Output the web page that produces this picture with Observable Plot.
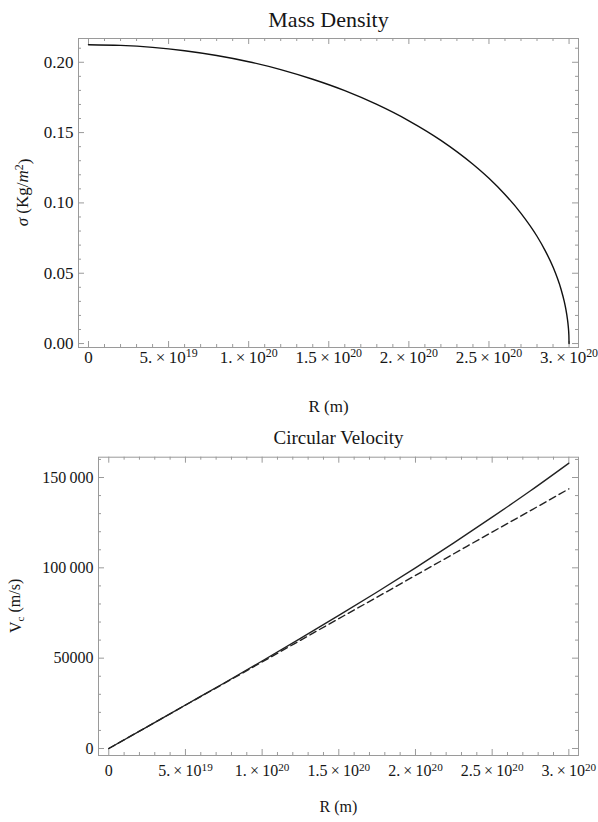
<!DOCTYPE html>
<html><head><meta charset="utf-8">
<script src="https://cdn.jsdelivr.net/npm/d3@7"></script>
<script src="https://cdn.jsdelivr.net/npm/@observablehq/plot@0.6"></script>
<style>
html,body{margin:0;padding:0;background:#fff}
svg{display:block}
svg text{font-family:'Liberation Serif','DejaVu Serif','Times New Roman',serif !important}
</style>
</head><body><div id="c"></div>
<script>
// ---- data ----
const densityTitle = "Mass Density";
const velocityTitle = "Circular Velocity";
// radius in units of 1e19 m, surface density in kg/m^2
const densityR = [0,2,4,6,8,10,12,14,16,18,20,22,24,25,26,27,28,28.5,29,29.5,29.7,29.8,29.9,29.95,29.99,30];
const densitySigma = [0.2125,0.2120,0.2106,0.2082,0.2048,0.2004,0.1948,0.1879,0.1798,0.1700,0.1584,0.1445,0.1275,0.1175,0.1060,0.0926,0.0763,0.0663,0.0544,0.0386,0.0300,0.0245,0.0173,0.0123,0.0055,0];
// radius in units of 1e20 m, velocities in m/s
const velocityR = [0,0.25,0.5,0.75,1,1.25,1.5,1.75,2,2.25,2.5,2.75,3];
const velocitySolid = [0,12010,24070,36120,48430,60930,73680,86620,100020,113800,128040,142660,157930];
const velocityDashed = [0,12000,24000,35900,47900,59900,71900,83800,95800,107800,119800,131700,143700];
// ticks
const xMajor = [0,5e19,1e20,1.5e20,2e20,2.5e20,3e20];
const xLabels = ["0","5.\u2009×\u200910^19","1.\u2009×\u200910^20","1.5\u2009×\u200910^20","2.\u2009×\u200910^20","2.5\u2009×\u200910^20","3.\u2009×\u200910^20"];
const xMinor = d3.range(0,31).map(k=>k*1e19).filter(v=>!xMajor.includes(v));
const sigmaMajor = [0,0.05,0.10,0.15,0.20];
const sigmaLabels = ["0.00","0.05","0.10","0.15","0.20"];
const sigmaMinor = d3.range(0,22).map(k=>k/100).filter(k=>Math.round(k*100)%5!==0);
const velMajor = [0,50000,100000,150000];
const velLabels = ["0","50000","100\u2009000","150\u2009000"];
const velMinor = d3.range(0,17).map(k=>k*10000).filter(v=>v%50000!==0);

const densityData = densityR.map((r,i)=>({R:r*1e19, sigma:densitySigma[i]}));
const velocityData = velocityR.flatMap((r,i)=>[
  {R:r*1e20, v:velocitySolid[i], s:"solid"},
  {R:r*1e20, v:velocityDashed[i], s:"dashed"}
]);

const FONT = "Liberation Serif";
const FRAME = "#9a9a9a";
const INK = "#161616";

function frameTicks(major, minor, dim, innerW, innerH){
  const marks = [];
  const sets = [[major,6],[minor,3]];
  for (const [vals,len] of sets){
    if (dim==="x"){
      marks.push(Plot.tickX(vals,{x:d=>d, insetTop: innerH-len, stroke:FRAME, strokeWidth:1}));
      marks.push(Plot.tickX(vals,{x:d=>d, insetBottom: innerH-len, stroke:FRAME, strokeWidth:1}));
    } else {
      marks.push(Plot.tickY(vals,{y:d=>d, insetRight: innerW-len, stroke:FRAME, strokeWidth:1}));
      marks.push(Plot.tickY(vals,{y:d=>d, insetLeft: innerW-len, stroke:FRAME, strokeWidth:1}));
    }
  }
  return marks;
}

// ---- top chart ----
const W = 598;
const t = {h:420, ml:78, mr:20, mt:38, mb:73};
const tIW = W-t.ml-t.mr, tIH = t.h-t.mt-t.mb;
const topPlot = Plot.plot({
  width:W, height:t.h,
  marginLeft:t.ml, marginRight:t.mr, marginTop:t.mt, marginBottom:t.mb,
  style:{fontFamily:FONT, fontSize:"17px", color:INK, background:"#fff", overflow:"visible"},
  x:{domain:[-6.24e18, 3.059e20], axis:null},
  y:{domain:[-0.0028, 0.2169], axis:null},
  marks:[
    Plot.frame({stroke:FRAME}),
    ...frameTicks(xMajor,xMinor,"x",tIW,tIH),
    ...frameTicks(sigmaMajor,sigmaMinor,"y",tIW,tIH),
    Plot.axisX({anchor:"bottom", ticks:xMajor, tickSize:0, tickPadding:3, tickFormat:d=>xLabels[xMajor.indexOf(d)], fill:INK, fontSize:17, fontFamily:FONT, label:null}),
    Plot.axisY({anchor:"left", ticks:sigmaMajor, tickSize:0, tickPadding:5, tickFormat:d=>sigmaLabels[sigmaMajor.indexOf(d)], fill:INK, fontSize:17, fontFamily:FONT, label:null}),
    Plot.line(densityData,{x:"R", y:"sigma", stroke:"#111", strokeWidth:1.4, curve:"monotone-x"}),
    Plot.text([densityTitle],{frameAnchor:"top", dy:-12, lineAnchor:"bottom", fontSize:22, fontFamily:FONT, fill:INK}),
    Plot.text(["R (m)"],{frameAnchor:"bottom", dy:64, fontSize:17, fontFamily:FONT, fill:INK})
  ]
});

// ---- bottom chart ----
const b = {h:402, ml:98, mr:20, mt:36.7, mb:67};
const bIW = W-b.ml-b.mr, bIH = b.h-b.mt-b.mb;
const botPlot = Plot.plot({
  width:W, height:b.h,
  marginLeft:b.ml, marginRight:b.mr, marginTop:b.mt, marginBottom:b.mb,
  style:{fontFamily:FONT, fontSize:"16px", color:INK, background:"#fff", overflow:"visible"},
  x:{domain:[-6.7e18, 3.063e20], axis:null},
  y:{domain:[-3875, 161240], axis:null},
  marks:[
    Plot.frame({stroke:FRAME}),
    ...frameTicks(xMajor,xMinor,"x",bIW,bIH),
    ...frameTicks(velMajor,velMinor,"y",bIW,bIH),
    Plot.axisX({anchor:"bottom", ticks:xMajor, tickSize:0, tickPadding:9, tickFormat:d=>xLabels[xMajor.indexOf(d)], fill:INK, fontSize:16, fontFamily:FONT, label:null}),
    Plot.axisY({anchor:"left", ticks:velMajor, tickSize:0, tickPadding:5, tickFormat:d=>velLabels[velMajor.indexOf(d)], fill:INK, fontSize:16, fontFamily:FONT, label:null}),
    Plot.line(velocityData.filter(d=>d.s==="solid"),{x:"R", y:"v", stroke:"#222", strokeWidth:1.4, curve:"monotone-x"}),
    Plot.line(velocityData.filter(d=>d.s==="dashed"),{x:"R", y:"v", stroke:"#222", strokeWidth:1.4, strokeDasharray:"7,4", curve:"monotone-x"}),
    Plot.text([velocityTitle],{frameAnchor:"top", dy:-13, lineAnchor:"bottom", fontSize:19, fontFamily:FONT, fill:INK}),
    Plot.text(["R (m)"],{frameAnchor:"bottom", dy:56, fontSize:16, fontFamily:FONT, fill:INK})
  ]
});

// superscripts in tick labels
function superscripts(svg){
  d3.select(svg).selectAll("text").each(function(){
    const s = this.textContent;
    if (!s.includes("^")) return;
    const [base, exp] = s.split("^");
    const el = d3.select(this);
    el.text(base);
    el.append("tspan").attr("dy","-0.45em").attr("font-size","70%").text(exp);
  });
}
superscripts(topPlot); superscripts(botPlot);

// rotated y labels
const ty = d3.select(topPlot).append("text")
  .attr("transform",`translate(28,${t.mt+tIH/2}) rotate(-90)`)
  .attr("text-anchor","middle").attr("font-size",17).attr("fill",INK);
ty.append("tspan").attr("font-style","italic").text("σ");
ty.append("tspan").text(" (Kg/");
ty.append("tspan").attr("font-style","italic").text("m");
ty.append("tspan").attr("dy","-0.45em").attr("font-size","70%").text("2");
ty.append("tspan").attr("dy","0.45em").text(")");

const by = d3.select(botPlot).append("text")
  .attr("transform",`translate(21,${b.mt+bIH/2}) rotate(-90)`)
  .attr("text-anchor","middle").attr("font-size",16).attr("fill",INK);
by.append("tspan").text("V");
by.append("tspan").attr("dy","0.3em").attr("font-size","70%").text("c");
by.append("tspan").attr("dy","-0.3em").text(" (m/s)");

document.getElementById("c").append(topPlot, botPlot);
</script>
</body></html>
